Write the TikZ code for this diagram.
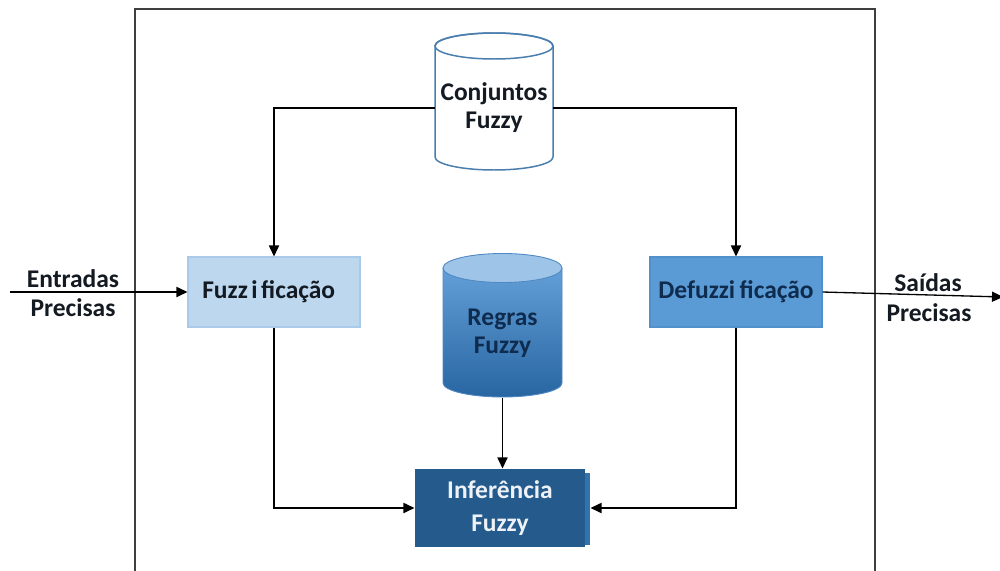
\documentclass[tikz,border=0pt]{standalone}
\usepackage{fontspec}
\setmainfont{Carlito}
\usetikzlibrary{arrows.meta,calc}

% one drawing unit = 0.2 mm
\newcommand{\pxu}{0.2mm}

\definecolor{framegray}{HTML}{3F3F3F}
\definecolor{cylline}{HTML}{4A7EAE}
\definecolor{fuzzfill}{HTML}{BDD7EE}
\definecolor{fuzzline}{HTML}{AACAE9}
\definecolor{defuzzfill}{HTML}{5B9BD5}
\definecolor{defuzzline}{HTML}{5290CC}
\definecolor{inffill}{HTML}{245A8C}
\definecolor{infedge}{HTML}{3272AD}
\definecolor{infText}{HTML}{EEF2F6}
\definecolor{rulestop}{HTML}{69A5DD}
\definecolor{rulesbot}{HTML}{2866A2}
\definecolor{rulescap}{HTML}{9EC5E8}
\definecolor{rulesline}{HTML}{4F88C2}
\definecolor{navytext}{HTML}{0F2B4D}
\definecolor{darktext}{HTML}{141A22}

\tikzset{
  lbl/.style={font=\fontsize{14.5}{16}\selectfont\bfseries, align=center, inner sep=0pt, text=darktext},
  block/.style={lbl, minimum width=172*\pxu, minimum height=70*\pxu, line width=0.6pt},
  cylframe/.style={minimum width=118*\pxu, inner sep=0pt},
  wire/.style={draw=black, line width=0.75pt},
  flow/.style={wire, -{Triangle[length=6.3pt,width=5.8pt]}},
}

\begin{document}
\begin{tikzpicture}[x=\pxu, y=-\pxu]
\useasboundingbox (0,0) rectangle (1000,571);
\fill[white] (0,0) rectangle (1000,571);

% system boundary (open at the bottom)
\draw[framegray, line width=0.8pt] (135,571) -- (135,9) -- (875,9) -- (875,571);

% fuzzy sets store: white cylinder
\filldraw[fill=white, draw=cylline, line width=0.85pt]
  (435,46) -- (435,157)
  arc[start angle=180, end angle=360, x radius=59*\pxu, y radius=13*\pxu]
  -- (553,46)
  arc[start angle=0, end angle=180, x radius=59*\pxu, y radius=13*\pxu] -- cycle;
\draw[cylline, line width=0.85pt] (494,46) ellipse[x radius=59*\pxu, y radius=13*\pxu];
\node[lbl, cylframe, minimum height=124*\pxu] (conj) at (494,108) {Conjuntos\\Fuzzy};

% rule base: shaded cylinder
\shade[top color=rulestop, bottom color=rulesbot]
  (443,268) -- (443,383)
  arc[start angle=180, end angle=360, x radius=59.5*\pxu, y radius=14*\pxu]
  -- (562,268)
  arc[start angle=0, end angle=180, x radius=59.5*\pxu, y radius=14*\pxu] -- cycle;
\draw[rulesline, line width=0.5pt]
  (443,268) -- (443,383)
  arc[start angle=180, end angle=360, x radius=59.5*\pxu, y radius=14*\pxu]
  -- (562,268);
\filldraw[fill=rulescap, draw=rulesline, line width=0.5pt] (502.5,268) ellipse[x radius=59.5*\pxu, y radius=14.5*\pxu];
\node[lbl, cylframe, minimum width=119*\pxu, minimum height=130*\pxu, text=navytext] (rules) at (502.5,333) {Regras\\Fuzzy};

% processing blocks
\node[block, fill=fuzzfill, draw=fuzzline] (fuzz) at (274,292) {Fuzz\kern2pt i\kern2pt ficação\kern6pt};
\node[block, fill=defuzzfill, draw=defuzzline, text=navytext] (defuzz) at (736,292) {Defuzzi\kern2.5pt ficação};

\fill[infedge] (583,473) rectangle (590,545);
\node[block, minimum width=170*\pxu, minimum height=78*\pxu, fill=inffill, text=infText,
      font=\fontsize{14.5}{18.5}\selectfont\bfseries] (inf) at (500,508) {Inferência\\Fuzzy};

% inputs and outputs
\coordinate (inL) at (10,292);
\coordinate (outR) at (1003,297);
\node[lbl] (inTop) at (73,279) {Entradas};
\node[lbl] (inBot) at (73,308) {Precisas};
\node[lbl] (outTop) at (928,283) {Saídas};
\node[lbl] (outBot) at (929,313) {Precisas};

% connectors
\draw[flow] (inL) -- (fuzz.west);
\draw[flow] (defuzz.east) -- (outR);
\draw[flow] (conj.west) -| (fuzz.north);
\draw[flow] (conj.east) -| (defuzz.north);
\draw[flow] (fuzz.south) |- (inf.west);
\draw[flow] (defuzz.south) |- ([xshift=5*\pxu]inf.east);
\draw[flow] (rules.south) -- (rules.south |- inf.north);
\end{tikzpicture}
\end{document}
